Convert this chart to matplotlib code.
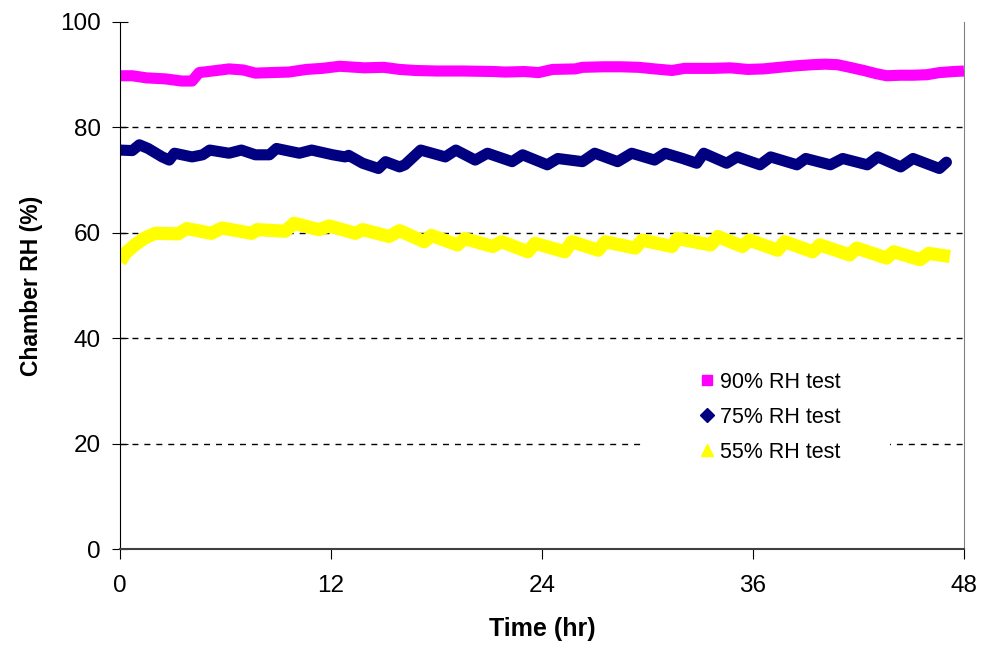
import numpy as np
import matplotlib
matplotlib.use("Agg")
import matplotlib.pyplot as plt
from matplotlib.lines import Line2D
from matplotlib.patches import Rectangle

plt.rcParams['font.family'] = ['Liberation Sans', 'DejaVu Sans']

# 90% RH test
t90 = [0, 0.7, 1.5, 2.6, 3.5, 4.1, 4.5, 5.5, 6.2, 7.0, 7.7, 8.6, 9.6, 10.6, 11.5,
       12.5, 13.9, 15.0, 15.9, 16.8, 18.0, 19.5, 21.3, 21.9, 23.0, 23.8, 24.6, 25.9,
       26.3, 27.5, 28.5, 29.5, 30.4, 31.4, 32.1, 33.0, 33.7, 34.7, 35.7, 36.6, 37.5,
       38.5, 39.4, 40.1, 40.8, 41.5, 42.3, 43.0, 43.6, 44.4, 45.1, 45.9, 46.6, 47.4, 48.0]
rh90 = [89.8, 89.8, 89.4, 89.2, 88.8, 88.8, 90.4, 90.8, 91.1, 90.9, 90.3, 90.4, 90.5, 91.0, 91.2,
        91.6, 91.3, 91.4, 91.0, 90.8, 90.7, 90.7, 90.6, 90.5, 90.6, 90.4, 91.0, 91.1,
        91.4, 91.5, 91.5, 91.4, 91.1, 90.8, 91.2, 91.2, 91.2, 91.3, 91.0, 91.1, 91.4,
        91.7, 91.9, 92.0, 91.9, 91.4, 90.8, 90.2, 89.8, 89.9, 89.9, 90.0, 90.4, 90.6, 90.7]

# 75% RH test
t75 = [0, 0.7, 1.1, 1.6, 2.4, 2.8, 3.1, 4.1, 4.7, 5.1, 6.2, 6.9, 7.7, 8.5, 8.9, 10.2, 10.9,
       12.1, 12.8, 13.0, 13.8, 14.7, 15.1, 15.9, 16.2, 17.1, 18.5, 19.1, 20.2, 20.9, 22.3,
       22.9, 24.3, 24.9, 26.3, 27.0, 28.3, 29.1, 30.4, 31.0, 32.0, 32.8, 33.2, 34.5, 35.1,
       36.4, 37.0, 38.5, 39.0, 40.4, 41.1, 42.5, 43.1, 44.4, 45.1, 46.6, 47.0]
rh75 = [75.7, 75.6, 76.7, 76.0, 74.4, 73.8, 75.1, 74.4, 74.8, 75.7, 75.1, 75.7, 74.8, 74.8, 76.0, 75.1, 75.7,
        74.8, 74.4, 74.7, 73.2, 72.2, 73.5, 72.5, 72.9, 75.7, 74.4, 75.7, 73.8, 75.1, 73.5,
        74.8, 72.9, 74.1, 73.5, 75.1, 73.5, 75.1, 73.8, 75.1, 74.1, 73.2, 75.1, 73.2, 74.4,
        72.9, 74.4, 72.9, 74.1, 72.9, 74.1, 72.9, 74.4, 72.5, 74.1, 72.2, 73.4]

# 55% RH test
t55 = [0, 0.3, 0.85, 1.4, 2.0, 3.3, 3.8, 5.2, 5.8, 7.5, 7.8, 9.4, 9.9, 11.3, 11.9, 13.4, 13.8,
       15.3, 15.9, 17.3, 17.7, 19.2, 19.6, 21.2, 21.7, 23.2, 23.6, 25.3, 25.7, 27.2, 27.6,
       29.3, 29.7, 31.4, 31.7, 33.6, 34.0, 35.4, 35.8, 37.4, 37.8, 39.4, 39.8, 41.5, 41.9,
       43.6, 44.0, 45.5, 46.0, 47.2]
rh55 = [54.5, 56.1, 57.7, 59.0, 59.9, 59.8, 60.8, 59.9, 60.9, 59.9, 60.6, 60.3, 61.8, 60.6, 61.3, 59.9, 60.6,
        59.3, 60.4, 58.3, 59.5, 57.7, 58.9, 57.4, 58.3, 56.4, 58.0, 56.4, 58.3, 56.7, 58.3,
        57.1, 58.6, 57.4, 58.9, 57.7, 59.3, 57.4, 58.6, 56.7, 58.3, 56.4, 57.7, 55.8, 57.1,
        55.2, 56.4, 54.9, 56.1, 55.5]

labels = ["90% RH test", "75% RH test", "55% RH test"]
colors = ["#FF00FF", "#000080", "#FFFF00"]

fig = plt.figure(figsize=(9.83, 6.48), dpi=100)
ax = fig.add_axes([120/983, 1 - 549/648, 844/983, 527/648])

ax.plot(t90, rh90, color=colors[0], lw=8, solid_joinstyle='round', solid_capstyle='butt')
ax.plot(t75, rh75, color=colors[1], lw=8, solid_joinstyle='round', solid_capstyle='round')
ax.plot(t55, rh55, color=colors[2], lw=9.5, solid_joinstyle='round', solid_capstyle='butt')

ax.set_xlim(0, 48)
ax.set_ylim(0, 100)
ax.set_xticks([0, 12, 24, 36, 48])
ax.set_yticks([0, 20, 40, 60, 80, 100])
for y in [20, 40, 60, 80]:
    ax.axhline(y, color='black', lw=1, dashes=(4.3, 4.3), zorder=0)

ax.spines['top'].set_visible(False)
ax.spines['left'].set_color('black')
ax.spines['bottom'].set_color('#404040')
ax.spines['bottom'].set_linewidth(1.5)
ax.spines['right'].set_color('#808080')
ax.tick_params(axis='y', direction='inout', length=12, labelsize=17.5, pad=8)
ax.tick_params(axis='x', direction='out', length=7, labelsize=17.5, pad=12)

ax.set_xlabel("Time (hr)", fontsize=18, fontweight='bold', labelpad=14)
ax.set_ylabel("Chamber RH (%)", fontsize=16.5, fontweight='bold', labelpad=12)

# white legend area that breaks the gridline, as in the original
ax.add_patch(Rectangle((0.622, 0.15), 0.29, 0.205, transform=ax.transAxes,
                       facecolor='white', edgecolor='none', zorder=1))

handles = [
    Line2D([], [], ls='none', marker='s', ms=7, color=colors[0]),
    Line2D([], [], ls='none', marker='D', ms=7, color=colors[1]),
    Line2D([], [], ls='none', marker='^', ms=9, color=colors[2]),
]
leg = ax.legend(handles, labels, loc='upper left', bbox_to_anchor=(697/983, 1 - 372/648),
                bbox_transform=fig.transFigure, borderaxespad=0, fontsize=15.5,
                frameon=False, handlelength=0.9, handletextpad=0.15,
                labelspacing=0.65, borderpad=0)

fig.savefig("out.png", dpi=100)
